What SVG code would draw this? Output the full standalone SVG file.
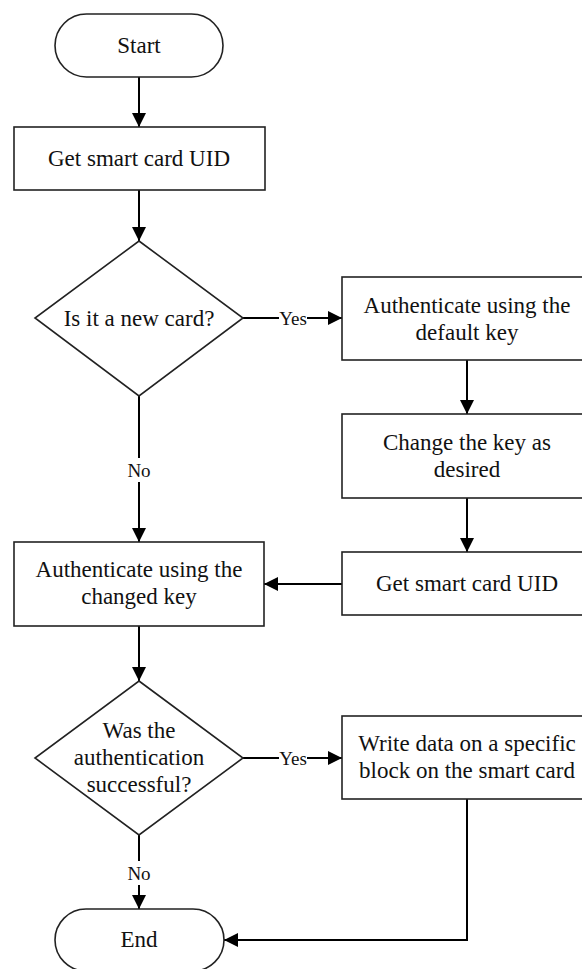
<svg xmlns="http://www.w3.org/2000/svg" width="582" height="969" viewBox="0 0 582 969">
<defs>
<style>
.box{fill:#fff;stroke:#222;stroke-width:1.6}
.t{font-family:'Liberation Serif','DejaVu Serif','Times New Roman',Times,serif;font-size:23px;fill:#111;text-anchor:middle}
.lbl{font-family:'Liberation Serif','DejaVu Serif','Times New Roman',Times,serif;font-size:19px;fill:#111;text-anchor:middle}
.c{fill:none;stroke:#000;stroke-width:2}
.bg{fill:#fff}
</style>
<marker id="ah" viewBox="0 0 14 14" refX="14" refY="7" markerWidth="14" markerHeight="14" markerUnits="userSpaceOnUse" orient="auto">
<path d="M0,0 L14,7 L0,14 z" fill="#000"/>
</marker>
</defs>
<rect width="582" height="969" fill="#fff"/>
<g id="connectors">
<line class="c" x1="139" y1="77" x2="139" y2="127" marker-end="url(#ah)"/>
<line class="c" x1="139" y1="190" x2="139" y2="241" marker-end="url(#ah)"/>
<line class="c" x1="243" y1="318" x2="342" y2="318" marker-end="url(#ah)"/>
<line class="c" x1="467" y1="360" x2="467" y2="414" marker-end="url(#ah)"/>
<line class="c" x1="467" y1="498" x2="467" y2="552" marker-end="url(#ah)"/>
<line class="c" x1="342" y1="584" x2="264" y2="584" marker-end="url(#ah)"/>
<line class="c" x1="139" y1="396" x2="139" y2="542" marker-end="url(#ah)"/>
<line class="c" x1="139" y1="626" x2="139" y2="681" marker-end="url(#ah)"/>
<line class="c" x1="243" y1="758" x2="342" y2="758" marker-end="url(#ah)"/>
<line class="c" x1="139" y1="835" x2="139" y2="909" marker-end="url(#ah)"/>
<path class="c" d="M467,799 V940 H224" marker-end="url(#ah)"/>
<rect class="bg" x="279" y="307" width="28" height="22"/>
<text class="lbl" x="293" y="325" font-family="Liberation Serif, serif">Yes</text>
<rect class="bg" x="127" y="458" width="24" height="24"/>
<text class="lbl" x="139" y="477" font-family="Liberation Serif, serif">No</text>
<rect class="bg" x="279" y="747" width="28" height="22"/>
<text class="lbl" x="293" y="765" font-family="Liberation Serif, serif">Yes</text>
<rect class="bg" x="127" y="861" width="24" height="24"/>
<text class="lbl" x="139" y="880" font-family="Liberation Serif, serif">No</text>
</g>
<g id="start">
<rect class="box" x="55" y="14" width="168" height="63" rx="31.5"/>
<text class="t" x="139" y="53">Start</text>
</g>
<g id="get-uid-1">
<rect class="box" x="14" y="127" width="251" height="63"/>
<text class="t" x="139" y="166">Get smart card UID</text>
</g>
<g id="new-card">
<polygon class="box" points="139,241 243,318 139,396 35,318"/>
<text class="t" x="139" y="326">Is it a new card?</text>
</g>
<g id="auth-default">
<rect class="box" x="342" y="277" width="250" height="83"/>
<text class="t" x="467" y="313">Authenticate using the</text>
<text class="t" x="467" y="340">default key</text>
</g>
<g id="change-key">
<rect class="box" x="342" y="414" width="250" height="84"/>
<text class="t" x="467" y="450">Change the key as</text>
<text class="t" x="467" y="477">desired</text>
</g>
<g id="get-uid-2">
<rect class="box" x="342" y="552" width="250" height="63"/>
<text class="t" x="467" y="591">Get smart card UID</text>
</g>
<g id="auth-changed">
<rect class="box" x="14" y="542" width="250" height="84"/>
<text class="t" x="139" y="577">Authenticate using the</text>
<text class="t" x="139" y="604">changed key</text>
</g>
<g id="auth-success">
<polygon class="box" points="139,681 243,758 139,835 35,758"/>
<text class="t" x="139" y="738">Was the</text>
<text class="t" x="139" y="765">authentication</text>
<text class="t" x="139" y="792">successful?</text>
</g>
<g id="write-data">
<rect class="box" x="342" y="716" width="250" height="83"/>
<text class="t" x="467" y="751">Write data on a specific</text>
<text class="t" x="467" y="778">block on the smart card</text>
</g>
<g id="end">
<rect class="box" x="55" y="909" width="169" height="62" rx="31"/>
<text class="t" x="139" y="947">End</text>
</g>
</svg>
